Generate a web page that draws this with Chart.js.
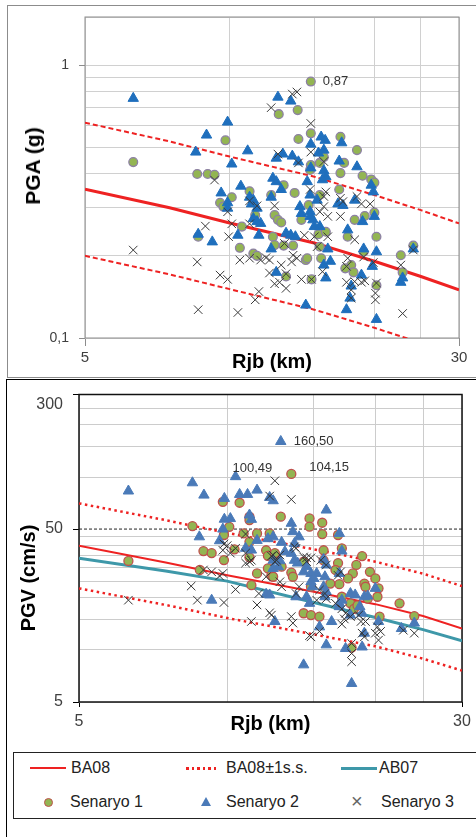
<!DOCTYPE html>
<html lang="tr">
<head>
<meta charset="UTF-8">
<title>PGA / PGV - Rjb</title>
<script src="https://cdn.jsdelivr.net/npm/chart.js"></script>
<style>
  body { margin: 0; width: 476px; height: 837px; overflow: hidden; background: #fff; position: relative;
         font-family: "Liberation Sans", Arial, sans-serif; }
  .box { position: absolute; box-sizing: border-box; }
  #boxTop { left: 7px; top: 5px; width: 480px; height: 373px; border: 1px solid #8c8c8c; }
  #boxBottom { left: 6px; top: 379px; width: 480px; height: 470px; border: 1px solid #000; }
  canvas { position: absolute; left: 0; }
  #pga { top: 0; }
  #pgv { top: 379px; }
  .ytitle { position: absolute; font-weight: bold; white-space: nowrap; color: #000;
            transform: translate(-50%, -50%) rotate(-90deg); }
  #legend { left: 13px; top: 752px; width: 480px; height: 67px; border: 1px solid #222; }
  .lg { position: absolute; }
  .txt { position: absolute; font-size: 16px; line-height: 18px; color: #222; white-space: nowrap; }
</style>
</head>
<body>
<div class="box" id="boxTop"></div>
<div class="box" id="boxBottom"></div>
<canvas id="pga" width="476" height="377"></canvas>
<canvas id="pgv" width="476" height="371"></canvas>
<div class="ytitle" style="left:33px; top:166px; font-size:21px;">PGA (g)</div>
<div class="ytitle" style="left:28px; top:578px; font-size:20px;">PGV (cm/s)</div>

<div class="box" id="legend">
  <div class="lg" style="left:16px; top:14px; width:36px; height:2px; background:#ee2222;"></div>
  <div class="txt" style="left:57px; top:6px;">BA08</div>
  <div class="lg" style="left:172px; top:14px; width:33px; height:2.5px;
       background:repeating-linear-gradient(90deg, #ee2222 0 2.5px, transparent 2.5px 5.5px);"></div>
  <div class="txt" style="left:212px; top:6px;">BA08±1s.s.</div>
  <div class="lg" style="left:327px; top:14px; width:36px; height:3px; background:#3e98a9;"></div>
  <div class="txt" style="left:365px; top:6px;">AB07</div>

  <div class="lg" style="left:30px; top:45px; width:7px; height:7px; border-radius:50%;
       background:#93b552; border:1px solid #c0504d;"></div>
  <div class="txt" style="left:56px; top:40px;">Senaryo 1</div>
  <div class="lg" style="left:187px; top:44px; width:0; height:0; border-left:5px solid transparent;
       border-right:5px solid transparent; border-bottom:9px solid #4a7ab8;"></div>
  <div class="txt" style="left:212px; top:40px;">Senaryo 2</div>
  <div class="txt" style="left:337px; top:39px; font-size:20px; color:#666;">×</div>
  <div class="txt" style="left:367px; top:40px;">Senaryo 3</div>
</div>

<script>
  // eksen ızgaraları ve etiketleri
  const rjbGrid = [5, 10, 15, 20, 25, 30];
  const rjbTicks = [5, 30];
  const rjbTickLabels = ['5', '30'];

  const pgaGrid = [0.1, 0.2, 0.3, 0.4, 0.5, 0.6, 0.7, 0.8, 0.9, 1, 1.5];
  const pgaTicks = [0.1, 1];
  const pgaTickLabels = ['0,1', '1'];

  const pgvGrid = [5, 10, 15, 20, 25, 30, 35, 40, 45, 50, 100, 150, 200, 250, 300];
  const pgvTicks = [5, 50, 300];
  const pgvTickLabels = ['5', '50', ['', '300']];

  // tahmin denklemleri (Rjb, km)
  const curveR = [5, 7.5, 10, 15, 20, 25, 30];
  const pgaBA08 = [0.351, 0.300, 0.264, 0.223, 0.191, 0.168, 0.150];
  const pgaBA08Up = [0.615, 0.525, 0.462, 0.390, 0.334, 0.294, 0.263];
  const pgaBA08Low = [0.200, 0.171, 0.151, 0.127, 0.109, 0.096, 0.086];

  const pgvBA08 = [40, 32, 27, 21.7, 18.4, 15.7, 13.3];
  const pgvBA08Up = [70.4, 56.3, 47.5, 38.2, 32.4, 27.6, 23.4];
  const pgvBA08Low = [22.7, 18.2, 15.3, 12.3, 10.5, 8.9, 7.6];
  const pgvAB07 = [33.9, 28.6, 25, 18.8, 15.4, 13.1, 11.3];

  const refR = [5, 30];
  const ref50 = [50, 50];

  // PGA senaryoları
  const pgaS1R = [14.75, 6.3, 13.85, 12.65, 14.75, 13.9, 17.0, 18.4, 9.8, 14.75,
    15.4, 17.3, 17.0, 18.9, 19.7, 20.0, 8.56, 9.0, 9.3, 12.95,
    13.65, 11.0, 10.1, 12.2, 9.55, 9.7, 12.4, 12.6, 12.8, 14.1,
    11.3, 10.6, 8.6, 10.5, 12.3, 12.4, 12.95, 13.55, 11.2, 14.4,
    13.1, 14.8, 18.2, 19.1, 20.0, 17.6, 20.2, 19.0, 15.4, 15.5,
    22.7, 22.9, 24.1, 17.9, 18.1, 17.4, 20.2, 14.5, 15.6, 15.7,
    16.9, 14.6, 15.4, 15.3, 15.85, 11.4, 14.7];
  const pgaS1 = [0.87, 0.441, 0.684, 0.661, 0.562, 0.536, 0.546, 0.488, 0.53, 0.43,
    0.438, 0.438, 0.402, 0.393, 0.381, 0.371, 0.399, 0.399, 0.396, 0.363,
    0.34, 0.345, 0.328, 0.334, 0.313, 0.303, 0.282, 0.271, 0.265, 0.271,
    0.282, 0.256, 0.235, 0.214, 0.235, 0.219, 0.218, 0.218, 0.204, 0.193,
    0.168, 0.164, 0.271, 0.28, 0.288, 0.235, 0.235, 0.207, 0.216, 0.196,
    0.201, 0.174, 0.218, 0.185, 0.174, 0.18, 0.156, 0.196, 0.475, 0.46,
    0.35, 0.307, 0.334, 0.24, 0.245, 0.2, 0.413];

  const pgaS2R = [6.3, 12.6, 13.4, 9.9, 8.95, 15.5, 15.8, 17.1, 10.9, 8.5,
    10.1, 12.9, 12.5, 13.5, 14.75, 14.75, 15.3, 16.9, 18.4, 19.7,
    12.3, 14.5, 10.55, 13.9, 12.5, 12.8, 9.6, 11.0, 11.2, 12.2,
    9.9, 9.9, 11.1, 11.4, 14.0, 14.1, 14.7, 14.7, 11.2, 11.4,
    11.6, 8.6, 9.2, 10.4, 11.5, 13.1, 13.4, 13.7, 12.2, 12.5,
    14.4, 15.7, 15.7, 15.85, 15.6, 19.9, 14.7, 15.2, 16.8, 17.2,
    18.2, 18.9, 20.0, 14.9, 15.4, 15.0, 17.6, 19.0, 20.2, 16.0,
    16.2, 22.9, 22.7, 24.1, 18.8, 19.8, 17.9, 17.8, 17.5, 20.2,
    15.7, 15.85];
  const pgaS2 = [0.755, 0.763, 0.738, 0.618, 0.554, 0.545, 0.53, 0.519, 0.485, 0.48,
    0.434, 0.472, 0.456, 0.464, 0.513, 0.42, 0.476, 0.445, 0.424, 0.363,
    0.385, 0.374, 0.36, 0.442, 0.374, 0.35, 0.34, 0.328, 0.32, 0.328,
    0.313, 0.299, 0.31, 0.299, 0.303, 0.286, 0.29, 0.279, 0.274, 0.267,
    0.263, 0.24, 0.225, 0.238, 0.238, 0.242, 0.238, 0.235, 0.212, 0.174,
    0.132, 0.488, 0.41, 0.39, 0.38, 0.343, 0.334, 0.32, 0.31, 0.306,
    0.32, 0.267, 0.279, 0.271, 0.256, 0.256, 0.249, 0.212, 0.207, 0.212,
    0.191, 0.166, 0.16, 0.212, 0.17, 0.183, 0.155, 0.14, 0.127, 0.117,
    0.185, 0.166];

  const pgaS3R = [13.5, 13.8, 12.2, 14.75, 12.6, 13.9, 14.75, 15.7, 9.3, 9.9,
    11.0, 10.1, 8.9, 9.95, 10.5, 11.0, 11.6, 12.1, 13.55, 13.8,
    13.45, 8.56, 12.8, 12.1, 9.55, 9.9, 12.4, 13.1, 14.8, 14.1,
    11.5, 11.3, 8.6, 10.4, 6.3, 12.4, 11.4, 11.0, 14.7, 13.0,
    14.3, 15.85, 15.7, 17.0, 17.2, 18.4, 18.8, 19.6, 17.0, 15.7,
    16.0, 15.4, 15.0, 16.0, 18.2, 19.0, 15.2, 17.6, 17.5, 18.8,
    19.1, 19.9, 20.2, 20.1, 20.1, 17.5, 18.2, 17.9, 17.9, 22.7,
    22.9, 24.1, 15.6, 11.9, 12.7, 13.1];
  const pgaS3 = [0.783, 0.797, 0.698, 0.611, 0.472, 0.438, 0.48, 0.443, 0.379, 0.29,
    0.262, 0.262, 0.257, 0.235, 0.193, 0.196, 0.193, 0.193, 0.201, 0.196,
    0.19, 0.19, 0.185, 0.173, 0.17, 0.164, 0.158, 0.152, 0.164, 0.164,
    0.148, 0.138, 0.127, 0.124, 0.21, 0.305, 0.305, 0.318, 0.35, 0.222,
    0.238, 0.343, 0.33, 0.325, 0.316, 0.33, 0.31, 0.31, 0.279, 0.303,
    0.279, 0.29, 0.235, 0.235, 0.229, 0.198, 0.216, 0.196, 0.183, 0.16,
    0.162, 0.189, 0.159, 0.146, 0.138, 0.16, 0.161, 0.15, 0.14, 0.185,
    0.123, 0.21, 0.175, 0.197, 0.16, 0.172];

  // PGV senaryoları
  const pgvS1R = [13.5, 6.3, 9.8, 10.6, 11.1, 11.1, 12.85, 8.5, 10.1, 9.85,
    11.5, 12.2, 14.7, 14.7, 15.6, 15.6, 16.8, 17.1, 18.8, 18.3,
    8.95, 9.3, 9.85, 10.35, 11.1, 14.3, 15.7, 15.7, 16.8, 10.8,
    11.1, 12.0, 12.1, 12.5, 8.8, 11.5, 11.2, 12.1, 12.3, 12.4,
    13.5, 13.6, 14.3, 14.8, 14.8, 12.9, 19.5, 20.0, 20.3, 18.0,
    17.6, 16.9, 19.0, 19.1, 16.6, 20.4, 22.4, 24.0, 16.2, 17.9,
    17.1, 17.8, 18.1, 15.4, 20.2, 18.4, 19.3];
  const pgvS1 = [104.15, 32.7, 71.9, 71, 58.9, 56.4, 59, 52, 51.5, 46.2,
    47.2, 47.2, 57.6, 51.6, 54.4, 46.8, 46.2, 38.7, 34.9, 31,
    37.3, 36.3, 33.1, 38.2, 42.2, 32.4, 37.7, 33, 31.8, 47.2,
    34.3, 37.7, 35, 36.3, 29, 27.7, 23.7, 29.6, 27, 26.5,
    28, 26.5, 16.3, 15.9, 23.2, 30.3, 28.3, 25.9, 22.7, 27.7,
    25.9, 24, 24.2, 23.2, 29, 15.6, 18.6, 15.7, 24.2, 10.3,
    20.3, 18.6, 17.3, 15.6, 20.3, 18.1, 19.8];

  const pgvS2R = [12.85, 10.4, 6.3, 8.5, 8.97, 9.87, 10.6, 11.0, 11.5, 12.2,
    12.4, 11.1, 11.2, 9.87, 10.15, 9.8, 8.78, 9.65, 13.5, 13.6,
    14.0, 12.4, 12.1, 12.9, 15.9, 16.9, 17.1, 11.5, 10.9, 11.2,
    13.7, 13.1, 13.5, 12.8, 12.4, 12.4, 12.0, 12.5, 9.3, 14.3,
    14.5, 14.3, 14.8, 14.8, 14.9, 13.7, 13.9, 12.7, 15.7, 15.9,
    15.2, 15.0, 16.9, 15.8, 15.7, 15.9, 15.8, 14.5, 14.7, 17.8,
    18.2, 19.0, 19.3, 16.9, 17.1, 16.3, 15.4, 18.8, 18.6, 20.0,
    20.3, 19.0, 18.8, 17.4, 15.9, 17.9, 22.6, 24.0, 12.2, 13.8,
    16.9, 17.8];
  const pgvS2 = [160.5, 100.49, 83, 92.6, 78.6, 75.2, 79.3, 79.3, 84, 76.2,
    72.9, 60.3, 56.9, 57, 57.5, 50, 45.1, 42.8, 54, 48.3,
    45.1, 45.1, 44, 41.9, 64.4, 47.2, 37.3, 43, 38.7, 37.8,
    41.3, 37, 36.2, 32.8, 33, 29.6, 21, 14.6, 19.4, 8.2,
    30.3, 28.3, 27.7, 24.8, 23.2, 33, 31.8, 30.3, 33.4, 31,
    27.7, 25.9, 27.7, 26.5, 23.2, 21.7, 20.3, 20.3, 18.6, 21.2,
    20.8, 20.3, 20.5, 18.6, 19.4, 14.6, 13.6, 16.3, 17.8, 22.7,
    14.6, 12.5, 10.4, 10.2, 10.7, 6.4, 13.3, 14.3, 20.8, 20.3,
    17.8, 15.9];

  const pgvS3R = [12.5, 13.5, 12.2, 10.9, 13.7, 10.0, 9.8, 10.15, 10.9, 11.1,
    12.4, 12.5, 14.5, 10.4, 9.85, 10.9, 11.2, 8.95, 9.3, 9.65,
    9.8, 8.45, 8.7, 9.85, 10.4, 11.6, 11.5, 11.2, 12.2, 12.3,
    12.3, 12.6, 12.8, 12.0, 12.8, 12.9, 13.5, 13.6, 14.8, 13.8,
    14.3, 14.8, 14.5, 14.0, 13.8, 15.5, 15.9, 16.8, 17.0, 15.4,
    15.8, 15.9, 15.2, 16.6, 17.1, 17.4, 17.3, 17.8, 17.1, 18.5,
    18.7, 19.1, 20.2, 20.5, 20.0, 20.3, 18.8, 19.0, 22.8, 24.0,
    17.9, 17.9, 17.9, 6.3, 14.7, 15.4];
  const pgvS3 = [95.1, 74.2, 77.6, 46.8, 39.5, 40.1, 37.7, 36.3, 36.3, 32.4,
    35.4, 32.4, 34.1, 38.7, 41, 31.8, 33, 29, 28.3, 26.8,
    27.7, 23.4, 19.4, 18.8, 22.4, 21.2, 18.2, 14.6, 16.4, 15.9,
    34.9, 33, 35.4, 26.5, 24.8, 23.2, 15.6, 14.3, 11.9, 38.7,
    34.5, 34.1, 32.4, 23.2, 21.2, 33, 31, 27, 28.3, 22.2,
    21.2, 19.8, 19.4, 18.6, 17.3, 16.3, 15.1, 15.6, 14.1, 15.9,
    14.6, 14.6, 13.6, 12.8, 12.5, 11.4, 12.5, 11.9, 13, 12.5,
    10.9, 9.55, 8.55, 19.4, 12.1, 12.8];

  Chart.defaults.font.family = '"Liberation Sans", Arial, sans-serif';
  Chart.defaults.color = '#404040';

  function pts(xs, ys) {
    return xs.map((x, i) => ({ x: x, y: ys[i] }));
  }

  function curve(ys, color, width, dash) {
    return {
      data: pts(curveR, ys), showLine: true, pointRadius: 0, borderColor: color,
      borderWidth: width, borderDash: dash || [], fill: false, tension: 0, order: 4
    };
  }

  function logAxis(min, max, grid, ticks, labels, o) {
    return {
      type: 'logarithmic', min: min, max: max,
      afterBuildTicks: s => { s.ticks = grid.map(v => ({ value: v })); },
      afterFit: s => {
        if (o.width) s.width = o.width;
        if (o.height) s.height = o.height;
        // çizim alanını yalnızca layout.padding belirlesin
        s.paddingTop = 0; s.paddingBottom = 0; s.paddingLeft = 0; s.paddingRight = 0;
      },
      ticks: {
        autoSkip: false, maxRotation: 0, padding: o.pad,
        font: { size: o.font }, color: '#404040',
        callback: v => { const k = ticks.indexOf(v); return k < 0 ? '' : labels[k]; }
      },
      grid: {
        color: c => (o.hide50 && c.tick && c.tick.value === 50) ? 'rgba(0,0,0,0)' : o.grid,
        lineWidth: 1, tickLength: o.tick,
        tickColor: c => (c.tick && ticks.indexOf(c.tick.value) >= 0) ? o.frame : 'rgba(0,0,0,0)'
      },
      border: { display: false },
      title: o.title ? {
        display: true, text: o.title, color: '#000',
        font: { size: 20, weight: 'bold' }, padding: { top: 0, bottom: o.titlePad }
      } : { display: false }
    };
  }

  const framePlugin = {
    id: 'frame',
    beforeDatasetsDraw(chart, args, opts) {
      const { ctx, chartArea: a } = chart;
      ctx.save();
      ctx.strokeStyle = opts.color;
      ctx.lineWidth = opts.width;
      ctx.strokeRect(a.left, a.top, a.right - a.left, a.bottom - a.top);
      ctx.restore();
    }
  };

  // değer etiketleri (0,87 / 160,50 ...)
  const notePlugin = {
    id: 'notes',
    afterDatasetsDraw(chart, args, opts) {
      const ctx = chart.ctx;
      ctx.save();
      ctx.font = '13px "Liberation Sans", Arial, sans-serif';
      ctx.fillStyle = '#333';
      ctx.textBaseline = 'middle';
      (opts.items || []).forEach(n => {
        const p = chart.getDatasetMeta(n.ds).data[n.i];
        const v = chart.data.datasets[n.ds].data[n.i].y;
        ctx.fillText(v.toFixed(2).replace('.', ','), p.x + n.dx, p.y + n.dy);
      });
      ctx.restore();
    }
  };

  const common = {
    responsive: false, animation: false, devicePixelRatio: 1,
    events: []
  };

  // ---- PGA paneli ----
  new Chart(document.getElementById('pga'), {
    type: 'scatter',
    data: {
      datasets: [
        { data: pts(pgaS1R, pgaS1), pointStyle: 'circle', pointRadius: 4.4, backgroundColor: '#93b552',
          borderColor: '#8d80a4', pointBorderWidth: 1.3, order: 3 },
        { data: pts(pgaS2R, pgaS2), pointStyle: 'triangle', pointRadius: 6, backgroundColor: '#1f6fbd',
          borderColor: '#1f6fbd', pointBorderWidth: 1, order: 2 },
        { data: pts(pgaS3R, pgaS3), pointStyle: 'crossRot', pointRadius: 6, borderColor: '#3a3a3a',
          pointBorderWidth: 1, order: 1 },
        curve(pgaBA08, '#ee2222', 3),
        curve(pgaBA08Up, '#ee2222', 2, [5, 3]),
        curve(pgaBA08Low, '#ee2222', 2, [5, 3])
      ]
    },
    options: Object.assign({}, common, {
      layout: { padding: { top: 17, right: 17, left: 0, bottom: 0 } },
      scales: {
        x: logAxis(5, 30, rjbGrid, rjbTicks, rjbTickLabels,
          { height: 39, pad: 3, tick: 8, font: 15, grid: '#d0d0d0', frame: '#8c8c8c', title: 'Rjb (km)', titlePad: 3 }),
        y: logAxis(0.1, 1.5, pgaGrid, pgaTicks, pgaTickLabels,
          { width: 85, pad: 10, tick: 6, font: 14, grid: '#d0d0d0', frame: '#8c8c8c' })
      },
      plugins: {
        legend: { display: false }, tooltip: { enabled: false },
        frame: { color: '#8c8c8c', width: 1 },
        notes: { items: [{ ds: 0, i: 0, dx: 12, dy: 0 }] }
      }
    }),
    plugins: [framePlugin, notePlugin]
  });

  // ---- PGV paneli ----
  new Chart(document.getElementById('pgv'), {
    type: 'scatter',
    data: {
      datasets: [
        { data: pts(pgvS1R, pgvS1), pointStyle: 'circle', pointRadius: 4.5, backgroundColor: '#93b552',
          borderColor: '#c0504d', pointBorderWidth: 1.3, order: 3 },
        { data: pts(pgvS2R, pgvS2), pointStyle: 'triangle', pointRadius: 6, backgroundColor: '#4a7ab8',
          borderColor: '#4a7ab8', pointBorderWidth: 1, order: 2 },
        { data: pts(pgvS3R, pgvS3), pointStyle: 'crossRot', pointRadius: 6, borderColor: '#333333',
          pointBorderWidth: 1, order: 1 },
        curve(pgvBA08, '#ee2222', 2),
        curve(pgvBA08Up, '#ee2222', 2.5, [2.5, 3.5]),
        curve(pgvBA08Low, '#ee2222', 2.5, [2.5, 3.5]),
        curve(pgvAB07, '#3e98a9', 3),
        { data: pts(refR, ref50), showLine: true, pointRadius: 0, borderColor: '#222',
          borderWidth: 1, borderDash: [3, 2], order: 5 }
      ]
    },
    options: Object.assign({}, common, {
      layout: { padding: { top: 15.5, right: 14, left: 0, bottom: 0 } },
      scales: {
        x: logAxis(5, 30, rjbGrid, rjbTicks, rjbTickLabels,
          { height: 48, pad: 5, tick: 5, font: 16, grid: '#cccccc', frame: '#000', title: 'Rjb (km)', titlePad: 14 }),
        y: logAxis(5, 300, pgvGrid, pgvTicks, pgvTickLabels,
          { width: 79, pad: 10, tick: 6, font: 16, grid: '#cccccc', frame: '#000', hide50: true })
      },
      plugins: {
        legend: { display: false }, tooltip: { enabled: false },
        frame: { color: '#111', width: 1.5 },
        notes: { items: [
          { ds: 1, i: 0, dx: 13, dy: 0 },
          { ds: 1, i: 1, dx: -3, dy: -8 },
          { ds: 0, i: 0, dx: 18, dy: -7 }
        ] }
      }
    }),
    plugins: [framePlugin, notePlugin]
  });
</script>
</body>
</html>
